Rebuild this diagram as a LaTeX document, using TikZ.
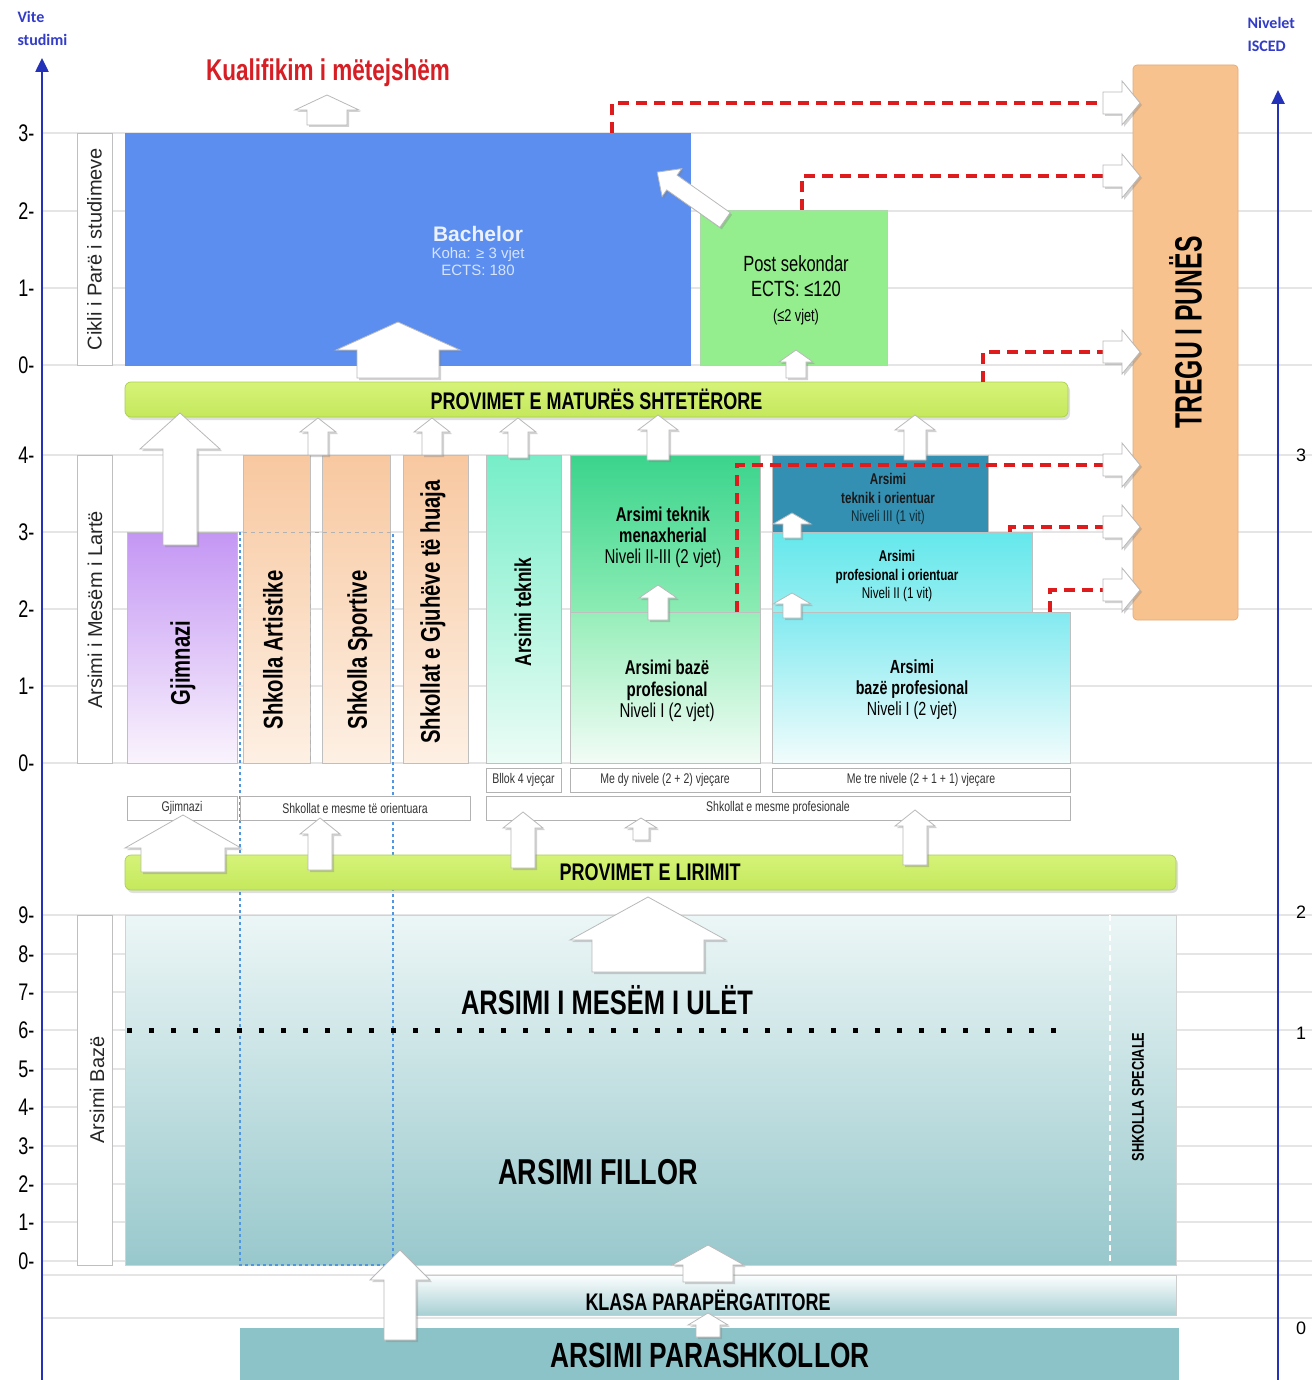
\documentclass[tikz,border=0pt]{standalone}
\usepackage{fontspec}
\setmainfont{Liberation Sans}
\newfontfamily\narrowfont[FakeStretch=0.75]{Liberation Sans}
\newfontfamily\tightfont[FakeStretch=0.65]{Liberation Sans}
\newfontfamily\axfont{Carlito}
\usetikzlibrary{arrows.meta,shadows}
\definecolor{bachblue}{RGB}{92,142,240}
\definecolor{bachtext}{RGB}{215,228,250}
\definecolor{postgreen}{RGB}{148,238,142}
\definecolor{treguorange}{RGB}{248,194,142}
\definecolor{treguedge}{RGB}{228,170,120}
\definecolor{barlight}{RGB}{214,243,120}
\definecolor{bardark}{RGB}{196,232,92}
\definecolor{barrim}{RGB}{170,208,80}
\definecolor{gjimtop}{RGB}{196,150,244}
\definecolor{gjimbot}{RGB}{250,244,253}
\definecolor{oratop}{RGB}{248,200,160}
\definecolor{orabot}{RGB}{253,240,228}
\definecolor{tektop}{RGB}{118,238,200}
\definecolor{tekbot}{RGB}{236,252,246}
\definecolor{menaxtop}{RGB}{58,212,140}
\definecolor{menaxbot}{RGB}{140,236,180}
\definecolor{bazetop}{RGB}{150,238,185}
\definecolor{bazebot}{RGB}{242,252,246}
\definecolor{toriteal}{RGB}{52,144,178}
\definecolor{poritop}{RGB}{100,232,236}
\definecolor{poribot}{RGB}{150,238,240}
\definecolor{cyantop}{RGB}{130,234,240}
\definecolor{cyanbot}{RGB}{242,252,252}
\definecolor{basictop}{RGB}{236,246,246}
\definecolor{basicbot}{RGB}{152,200,204}
\definecolor{klasatop}{RGB}{252,254,254}
\definecolor{klasabot}{RGB}{168,208,212}
\definecolor{parash}{RGB}{140,195,200}
\definecolor{dashred}{RGB}{222,28,30}
\definecolor{kred}{RGB}{214,30,36}
\definecolor{axisblue}{RGB}{35,50,185}
\definecolor{axistext}{RGB}{50,60,200}
\definecolor{bluedot}{RGB}{80,150,225}
\newcommand\fsz[2]{\fontsize{#1}{#2}\selectfont}
\newcommand\blockup[6]{\draw[arr] ({#1-#4},#2) -- ({#1-#4},{#3+#6}) -- ({#1-#5},{#3+#6}) -- (#1,#3) -- ({#1+#5},{#3+#6}) -- ({#1+#4},{#3+#6}) -- ({#1+#4},#2) -- cycle;}
\newcommand\blockright[6]{\draw[arr] (#2,{#1-#4}) -- ({#3-#6},{#1-#4}) -- ({#3-#6},{#1-#5}) -- (#3,#1) -- ({#3-#6},{#1+#5}) -- ({#3-#6},{#1+#4}) -- (#2,{#1+#4}) -- cycle;}
\tikzset{
  box/.style = {draw=gray!50, line width=0.7pt, anchor=north west, inner sep=0pt, outer sep=0pt, align=center},
  lbl/.style = {box, fill=white, draw=gray!60, text=black!80, font=\narrowfont\fsz{14}{14}},
  bar/.style = {box, rounded corners=6pt, draw=barrim, top color=barlight, bottom color=bardark, drop shadow={opacity=0.25, shadow xshift=2pt, shadow yshift=-3pt}},
  arr/.style = {fill=white, draw=gray!55, line width=0.8pt, drop shadow={opacity=0.35, shadow xshift=2pt, shadow yshift=-2pt}},
  reddash/.style = {draw=dashred, line width=4.5pt, dash pattern=on 11pt off 7pt},
  grid/.style = {draw=gray!20, line width=1.2pt},
  axis/.style = {draw=axisblue, line width=2.5pt, -{Triangle[length=14pt,width=13pt]}},
  axlabel/.style = {anchor=north west, align=left, text=axistext, font=\axfont\bfseries\fsz{16}{23}},
  tick/.style = {anchor=east, font=\narrowfont\fsz{24}{24}},
  vtext/.style = {rotate=90, font=\narrowfont\bfseries\fsz{27}{27}},
  vlabel/.style = {rotate=90, font=\fsz{20}{20}, text=black!85},
}
\begin{document}
\begin{tikzpicture}[x=1pt, y=-1pt]
    \useasboundingbox (0,0) rectangle (1312,1380);
    \fill[white] (0,0) rectangle (1312,1380);
    \foreach \y in {133,211,288,365,455,532,609,686,763,915,954,992,1030,1069,1107,1146,1184,1222,1261,1275,1318}
        \draw[grid] (42,\y) -- (1312,\y);
    \draw[axis] (42,1380) -- (42,58);
    \draw[axis] (1278,1380) -- (1278,90);
    \node[axlabel] (vite) at (14,8) {Vite\\studimi};
    \node[axlabel] (isced) at (1244,14) {Nivelet\\ISCED};
    \foreach \y/\t in {133/3,211/2,288/1,365/0,455/4,532/3,609/2,686/1,763/0,915/9,954/8,992/7,1030/6,1069/5,1107/4,1146/3,1184/2,1222/1,1261/0}
        \node[tick] (v\y) at (38,\y) {\t-};
    \foreach \y/\t in {455/3,912/2,1033/1,1328/0}
        \node[font=\fsz{18}{18}] (r\t) at (1301,\y) {\t};

    \node[font=\narrowfont\bfseries\fsz{30}{30}, text=kred] (kual) at (328,73) {Kualifikim i mëtejshëm};

    \node[box, fill=white, minimum width=35pt, minimum height=232pt] (cikli) at (77,133) {};
    \node[box, fill=white, minimum width=35pt, minimum height=308pt] (lmesem) at (77,455) {};
    \node[box, fill=white, minimum width=35pt, minimum height=350pt] (lbaze) at (77,915) {};
    \node[vlabel] (tcikli) at (cikli.center) {Cikli i Parë i studimeve};
    \node[vlabel] (tmesem) at (95,610) {Arsimi i Mesëm i Lartë};
    \node[vlabel] (tbaze) at (97,1090) {Arsimi Bazë};

    \node[box, fill=bachblue, draw=bachblue, minimum width=565pt, minimum height=232pt] (bach) at (125,133) {};
    \node[align=center, text=bachtext, font=\fsz{15}{17}] (tbach) at (478,251) {{\fsz{21}{21}\bfseries\color{white!88!bachblue}Bachelor}\\Koha: ≥ 3 vjet\\ECTS: 180};
    \node[box, fill=postgreen, draw=postgreen!80!black!60, minimum width=187pt, minimum height=155pt] (post) at (700,210) {};
    \node[align=center, font=\narrowfont\fsz{22}{25}] (tpost) at (796,290) {Post sekondar\\ECTS: ≤120\\{\fsz{17}{17}(≤2 vjet)}};
    \node[box, rounded corners=4pt, fill=treguorange, draw=treguedge, minimum width=105pt, minimum height=555pt] (tregu) at (1133,65) {};
    \node[rotate=90, font=\tightfont\bfseries\fsz{38}{38}] (ttregu) at ([yshift=10pt]tregu.center) {TREGU I PUNËS};

    \node[box, top color=gjimtop, bottom color=gjimbot, minimum width=110pt, minimum height=231pt] (gjim) at (127,532) {};
    \node[box, top color=oratop, bottom color=orabot, minimum width=67pt, minimum height=308pt] (art) at (243,455) {};
    \node[box, top color=oratop, bottom color=orabot, minimum width=68pt, minimum height=308pt] (sport) at (322,455) {};
    \node[box, top color=oratop, bottom color=orabot, minimum width=65pt, minimum height=308pt] (gjuhe) at (403,455) {};
    \node[box, top color=tektop, bottom color=tekbot, minimum width=75pt, minimum height=308pt] (tekn) at (486,455) {};
    \node[box, top color=menaxtop, bottom color=menaxbot, minimum width=190pt, minimum height=157pt] (menax) at (570,455) {};
    \node[box, top color=bazetop, bottom color=bazebot, minimum width=190pt, minimum height=151pt] (baze2) at (570,612) {};
    \node[box, fill=toriteal, minimum width=216pt, minimum height=77pt] (torient) at (772,455) {};
    \node[box, top color=poritop, bottom color=poribot, minimum width=260pt, minimum height=80pt] (porient) at (772,532) {};
    \node[box, top color=cyantop, bottom color=cyanbot, minimum width=298pt, minimum height=151pt] (baze3) at (772,612) {};

    \node[align=center, font=\narrowfont\fsz{20}{21}] (tmenax) at (663,537) {\textbf{Arsimi teknik}\\\textbf{menaxherial}\\Niveli II-III (2 vjet)};
    \node[align=center, font=\narrowfont\fsz{20}{21.5}] (tbaze2) at (667,691) {\textbf{Arsimi bazë}\\\textbf{profesional}\\Niveli I (2 vjet)};
    \node[align=center, font=\narrowfont\fsz{15.5}{18.5}, text=black!90] (ttorient) at (888,499) {\textbf{Arsimi}\\\textbf{teknik i orientuar}\\{\color{black!70!toriteal}Niveli III (1 vit)}};
    \node[align=center, font=\narrowfont\fsz{15.5}{18.5}] (tporient) at (897,576) {\textbf{Arsimi}\\\textbf{profesional i orientuar}\\Niveli II (1 vit)};
    \node[align=center, font=\narrowfont\fsz{19}{21}] (tbaze3) at (912,690) {\textbf{Arsimi}\\\textbf{bazë profesional}\\Niveli I (2 vjet)};

    \node[vtext] (tgjim) at (183,663) {Gjimnazi};
    \node[vtext] (tart) at (273,650) {Shkolla Artistike};
    \node[vtext] (tsport) at (360,650) {Shkolla Sportive};
    \node[vtext] (tgjuhe) at (433,612) {Shkollat e Gjuhëve të huaja};
    \node[vtext, font=\narrowfont\bfseries\fsz{23}{23}] (ttekn) at (523,612) {Arsimi teknik};

    \node[box, top color=basictop, bottom color=basicbot, draw=gray!35, minimum width=1051pt, minimum height=350pt] (basic) at (125,915) {};
    \node[box, top color=klasatop, bottom color=klasabot, draw=gray!40, minimum width=761pt, minimum height=40pt] (klasa) at (415,1275) {};
    \node[box, fill=parash, draw=parash, minimum width=938pt, minimum height=60pt] (parash) at (240,1328) {};

    \draw[draw=bluedot, line width=1.2pt, dash pattern=on 3pt off 3pt] (240,532) -- (240,1265) -- (393,1265) -- (393,532);
    \draw[draw=gray!60, line width=1pt, dash pattern=on 4pt off 4pt] (243,532) -- (392,532);
    \draw[draw=gray!60, line width=1pt, dash pattern=on 4pt off 4pt] (310,532) -- (310,763);
    \draw[line width=5pt, dash pattern=on 5pt off 17pt] (127,1030) -- (1072,1030);
    \draw[white, line width=1.5pt, dash pattern=on 6pt off 4pt] (1110,915) -- (1110,1265);

    \node[lbl, minimum width=75pt, minimum height=24pt] (bllok) at (486,768) {Bllok 4 vjeçar};
    \node[lbl, minimum width=190pt, minimum height=24pt] (dy) at (570,768) {Me dy nivele (2 + 2) vjeçare};
    \node[lbl, minimum width=298pt, minimum height=24pt] (tre) at (772,768) {Me tre nivele (2 + 1 + 1) vjeçare};
    \node[lbl, minimum width=110pt, minimum height=24pt] (lgjim) at (127,796) {Gjimnazi};
    \node[lbl, minimum width=230pt, minimum height=24pt] (lorient) at (240,796) {Shkollat e mesme të orientuara};
    \node[lbl, minimum width=584pt, minimum height=24pt] (lprof) at (486,796) {Shkollat e mesme profesionale};

    \node[bar, minimum width=943pt, minimum height=35pt, font=\narrowfont\bfseries\fsz{24}{24}] (matura) at (125,382) {PROVIMET E MATURËS SHTETËRORE};
    \node[bar, minimum width=1051pt, minimum height=35pt] (lirim) at (125,855) {};
    \node[font=\narrowfont\bfseries\fsz{24}{24}] (tlirim) at (650,872) {PROVIMET E LIRIMIT};

    \coordinate (t1) at (1103,103);
    \coordinate (t2) at (1103,176);
    \coordinate (t3) at (1103,352);
    \coordinate (t4) at (1103,465);
    \coordinate (t5) at (1103,527);
    \coordinate (t6) at (1103,590);
    \draw[reddash] ([xshift=487pt]bach.north west) |- (t1);
    \draw[reddash] ([xshift=102pt]post.north west) |- (t2);
    \draw[reddash] ([xshift=-85pt]matura.north east) |- (t3);
    \draw[reddash] ([xshift=-23pt]menax.south east) |- (t4);
    \draw[reddash] ([xshift=-22pt]porient.north east) |- (t5);
    \draw[reddash] ([xshift=-20pt]baze3.north east) |- (t6);
    \foreach \y in {103,176,352,465,527,590}
        {\blockright{\y}{1103}{1140}{11}{22}{18}}

    \blockup{327}{125}{95}{20}{32}{15}
    \blockup{398}{378}{322}{41}{62}{28}
    \blockup{796}{378}{350}{10}{17}{12}
    \begin{scope}[shift={(725,220)}, rotate=54.8]
        \blockup{0}{0}{-83}{9}{17}{18}
    \end{scope}
    \blockup{180}{545}{413}{17}{40}{36}
    \blockup{318}{455}{418}{10}{18}{14}
    \blockup{432}{455}{418}{10}{18}{14}
    \blockup{518}{458}{418}{10}{18}{14}
    \blockup{658}{460}{415}{11}{20}{15}
    \blockup{915}{460}{415}{11}{20}{15}
    \blockup{658}{620}{585}{10}{19}{13}
    \blockup{792}{538}{513}{9}{19}{11}
    \blockup{792}{618}{593}{9}{19}{11}
    \blockup{183}{872}{815}{42}{58}{33}
    \blockup{320}{870}{818}{12}{20}{16}
    \blockup{523}{868}{812}{12}{20}{16}
    \blockup{641}{840}{818}{8}{16}{10}
    \blockup{915}{865}{810}{12}{20}{16}
    \blockup{648}{972}{897}{56}{78}{43}
    \blockup{708}{1282}{1245}{25}{36}{20}
    \blockup{708}{1337}{1313}{12}{20}{12}
    \blockup{400}{1340}{1250}{16}{30}{30}

    \node[font=\narrowfont\bfseries\fsz{34}{34}] (tulet) at (607,1000) {ARSIMI I MESËM I ULËT};
    \node[font=\narrowfont\bfseries\fsz{36}{36}] (tfillor) at (598,1172) {ARSIMI FILLOR};
    \node[rotate=90, font=\narrowfont\bfseries\fsz{17}{17}] (tspec) at (1138,1097) {SHKOLLA SPECIALE};
    \node[font=\narrowfont\bfseries\fsz{24}{24}] (tklasa) at (708,1300) {KLASA PARAPËRGATITORE};
    \node[font=\narrowfont\bfseries\fsz{35}{35}] (tparash) at (710,1355) {ARSIMI PARASHKOLLOR};
\end{tikzpicture}
\end{document}
